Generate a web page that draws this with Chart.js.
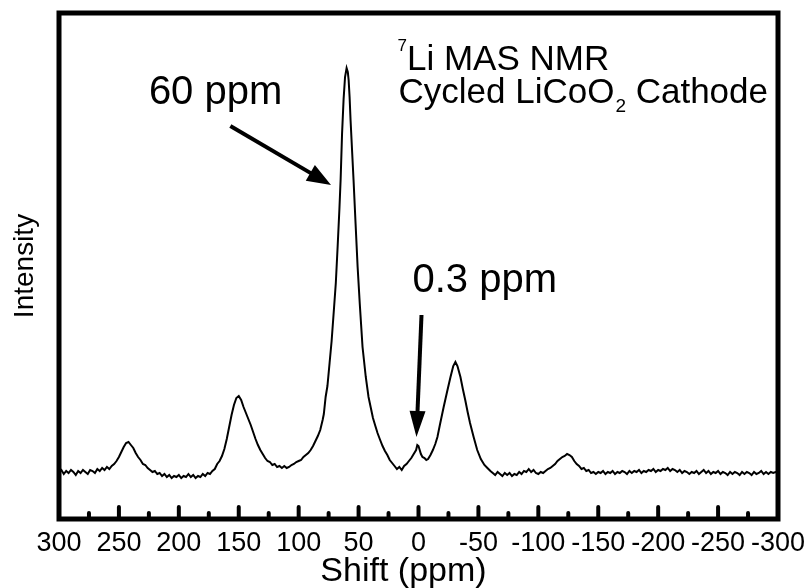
<!DOCTYPE html>
<html><head><meta charset="utf-8">
<script src="https://cdn.jsdelivr.net/npm/chart.js@4.4.0/dist/chart.umd.min.js"></script>
<style>html,body{margin:0;padding:0;background:#fff;}#wrap{width:807px;height:588px;}</style>
</head><body><div id="wrap"><canvas id="c" width="807" height="588"></canvas></div>
<script>
// Chemical shift (ppm) and intensity (arbitrary units)
const shiftPpm = [
 300,298,296,294,292,290,288,286,284,282,280,278,276,274,272,270,268,266,264,262,260,258,
 256,254,252,250,248,246,244,242,240,238,236,234,232,230,228,226,224,222,220,218,216,214,212,210,
 208,206,204,202,200,198,196,194,192,190,188,186,184,182,180,178,176,174,172,170,168,166,164,162,
 160,158,156,154,152,150,148,146,144,142,140,138,136,134,132,130,128,126,124,122,120,118,116,114,
 112,110,108,106,104,102,100,98,96,94,92,90,88,86,84,82,80,79,77.5,76,74.2,72.5,70.8,69,67.5,66,
 65,63.8,62.5,61.3,60,59,58.3,57.5,56.7,55.5,54.2,52.5,50.8,49,46.7,44,41.7,38,36,34.2,32,30,28,26,
 24,22,20,18,16,14,12,10,8,6,4,2,1,0,-1,-2,-3.3,-5,-6.5,-8,-10,-12,-14,-15.8,-18,-21,-24,-26.7,-29,
 -30.8,-32.5,-35,-37,-39,-41,-43,-46,-49,-52,-55,-57.5,-60,-62,-64,-66,-68,-70,-72,-74,-76,-78,-80,
 -82,-84,-86,-88,-90,-92,-94,-96,-98,-100,-102,-104,-106,-108,-110,-112,-114,-116,-118,-120,-122,
 -124,-126,-128,-130,-132,-134,-136,-138,-140,-142,-144,-146,-148,-150,-152,-154,-156,-158,-160,
 -162,-164,-166,-168,-170,-172,-174,-176,-178,-180,-182,-184,-186,-188,-190,-192,-194,-196,-198,
 -200,-202,-204,-206,-208,-210,-212,-214,-216,-218,-220,-222,-224,-226,-228,-230,-232,-234,-236,
 -238,-240,-242,-244,-246,-248,-250,-252,-254,-256,-258,-260,-262,-264,-266,-268,-270,-272,-274,
 -276,-278,-280,-282,-284,-286,-288,-290,-292,-294,-296,-298,-300
];
const intensity = [
 47,49,45,48,46,49,47,44,48,46,49,47,45,49,48,46,50,48,51,49,52,50,
 53,55,58,62,67,72,76,77,74,71,66,62,59,55,54,51,49,47,48,45,46,43,45,42,
 44,41,43,42,44,41,43,42,45,42,44,41,43,42,45,43,46,45,48,50,55,58,63,70,
 80,92,104,114,121,123,119,112,106,100,94,87,80,74,69,65,61,58,57,54,55,52,53,51,
 53,51,52,54,55,57,58,59,62,64,66,69,73,78,83,89,99,105,122,133,156,178,206,236,272,310,
 339,385,420,442,451,447,439,422,399,370,339,295,252,215,172,142,122,101,93,86,79,73,68,64,
 59,56,53,50,52,49,53,55,58,61,65,69,74,73,69,65,62,61,59,60,64,69,75,82,95,112,128,142,153,
 157,153,142,130,119,107,96,82,69,60,54,51,48,46,44,47,45,43,46,44,46,43,45,
 44,47,45,48,47,50,47,49,46,45,47,46,48,50,51,53,55,58,60,62,63,
 65,64,62,58,55,53,50,51,48,49,46,47,45,47,46,48,45,47,46,
 48,45,47,46,48,47,45,48,46,48,47,49,46,48,47,49,48,50,47,
 49,48,50,49,51,48,50,49,47,49,46,48,47,45,47,46,48,45,47,
 49,46,48,45,47,46,48,45,47,46,44,47,45,47,46,44,47,45,47,
 46,44,47,45,46,48,45,47,45,47,46,47,46
];
const xTickLabels = [300,250,200,150,100,50,0,-50,-100,-150,-200,-250,-300];
const majorInnerTicks = [250,200,150,100,50,0,-50,-100,-150,-200,-250];
const minorInnerTicks = [275,225,175,125,75,25,-25,-75,-125,-175,-225,-275];

// Annotation anchors in data units [shift, intensity]
const label60 = {text:'60 ppm', at:[225, 415]};
const label03 = {text:'0.3 ppm', at:[5, 227]};
const arrow60 = {from:[157, 393], to:[73, 334]};
const arrow03 = {from:[-2.5, 204], to:[1.7, 82]};
const titleLine1 = {sup:'7', text:'Li MAS NMR', at:[17.5, 449]};
const titleLine2 = {pre:'Cycled LiCoO', sub:'2', post:' Cathode', at:[16.7, 416]};

const FONT = '"Liberation Sans", Arial, sans-serif';

const framePlugin = {
  id:'frame',
  afterDatasetsDraw(chart){
    const {ctx, chartArea:a, scales:{x, y}} = chart;
    ctx.save();
    ctx.strokeStyle = '#000'; ctx.fillStyle = '#000';
    ctx.lineWidth = 5;
    ctx.strokeRect(a.left, a.top, a.right - a.left, a.bottom - a.top);
    ctx.lineWidth = 4; ctx.lineCap = 'round';
    majorInnerTicks.forEach(v => {const p = x.getPixelForValue(v); ctx.beginPath(); ctx.moveTo(p, a.bottom); ctx.lineTo(p, a.bottom - 12); ctx.stroke();});
    minorInnerTicks.forEach(v => {const p = x.getPixelForValue(v); ctx.beginPath(); ctx.moveTo(p, a.bottom); ctx.lineTo(p, a.bottom - 6); ctx.stroke();});
    ctx.lineCap = 'butt';
    function arrow(ar, headLen, headHalf){
      const x0 = x.getPixelForValue(ar.from[0]), y0 = y.getPixelForValue(ar.from[1]);
      const x1 = x.getPixelForValue(ar.to[0]), y1 = y.getPixelForValue(ar.to[1]);
      const dx = x1 - x0, dy = y1 - y0, L = Math.hypot(dx, dy), ux = dx / L, uy = dy / L;
      const bx = x1 - ux * headLen, by = y1 - uy * headLen;
      ctx.lineWidth = 4;
      ctx.beginPath(); ctx.moveTo(x0, y0); ctx.lineTo(bx + ux * 2, by + uy * 2); ctx.stroke();
      ctx.beginPath(); ctx.moveTo(x1, y1);
      ctx.lineTo(bx - uy * headHalf, by + ux * headHalf);
      ctx.lineTo(bx + uy * headHalf, by - ux * headHalf);
      ctx.closePath(); ctx.fill();
    }
    arrow(arrow60, 24, 9);
    arrow(arrow03, 26, 8);
    ctx.textBaseline = 'alphabetic'; ctx.textAlign = 'left';
    ctx.font = '40px ' + FONT;
    ctx.fillText(label60.text, x.getPixelForValue(label60.at[0]), y.getPixelForValue(label60.at[1]));
    ctx.fillText(label03.text, x.getPixelForValue(label03.at[0]), y.getPixelForValue(label03.at[1]));
    // annotation block
    let tx = x.getPixelForValue(titleLine1.at[0]), ty = y.getPixelForValue(titleLine1.at[1]);
    ctx.font = '17px ' + FONT;
    ctx.fillText(titleLine1.sup, tx, ty - 19);
    tx += ctx.measureText(titleLine1.sup).width;
    ctx.font = '35px ' + FONT;
    ctx.fillText(titleLine1.text, tx, ty);
    tx = x.getPixelForValue(titleLine2.at[0]); ty = y.getPixelForValue(titleLine2.at[1]);
    ctx.fillText(titleLine2.pre, tx, ty);
    tx += ctx.measureText(titleLine2.pre).width;
    ctx.font = '19px ' + FONT;
    ctx.fillText(titleLine2.sub, tx + 1, ty + 9);
    tx += ctx.measureText(titleLine2.sub).width + 1;
    ctx.font = '35px ' + FONT;
    ctx.fillText(titleLine2.post, tx, ty);
    ctx.restore();
  }
};

new Chart(document.getElementById('c'), {
  type:'line',
  data:{datasets:[{
    data: shiftPpm.map((s, i) => ({x:s, y:intensity[i]})),
    borderColor:'#000', borderWidth:2, pointRadius:0, tension:0, fill:false
  }]},
  options:{
    responsive:false, animation:false, devicePixelRatio:1,
    layout:{padding:{top:13, right:0, bottom:0, left:0}},
    plugins:{
      legend:{display:false}, tooltip:{enabled:false},
      title:{display:true, position:'bottom', text:'Shift (ppm)', color:'#000',
             font:{family:FONT, size:34, weight:'normal', lineHeight:1}, padding:{top:0, bottom:-1}}
    },
    scales:{
      x:{type:'linear', reverse:true, min:-300, max:300,
         afterBuildTicks: s => { s.ticks = xTickLabels.map(v => ({value:v})); },
         afterFit: s => { s.height = 36; s.paddingLeft = 0; s.paddingRight = 0; },
         grid:{display:false, drawTicks:false}, border:{display:false},
         ticks:{autoSkip:false, maxRotation:0, color:'#000', padding:8,
                font:{family:FONT, size:27}, callback: v => String(v)}},
      y:{type:'linear', min:0, max:506,
         afterFit: s => { s.width = 59; },
         grid:{display:false, drawTicks:false}, border:{display:false},
         ticks:{display:false},
         title:{display:true, text:'Intensity', color:'#000', font:{family:FONT, size:28}, padding:{top:8, bottom:0}}},
      yRight:{type:'linear', position:'right', min:0, max:506, display:true,
         afterFit: s => { s.width = 29; },
         grid:{display:false, drawTicks:false}, border:{display:false},
         ticks:{display:false}}
    }
  },
  plugins:[framePlugin]
});
</script></body></html>
